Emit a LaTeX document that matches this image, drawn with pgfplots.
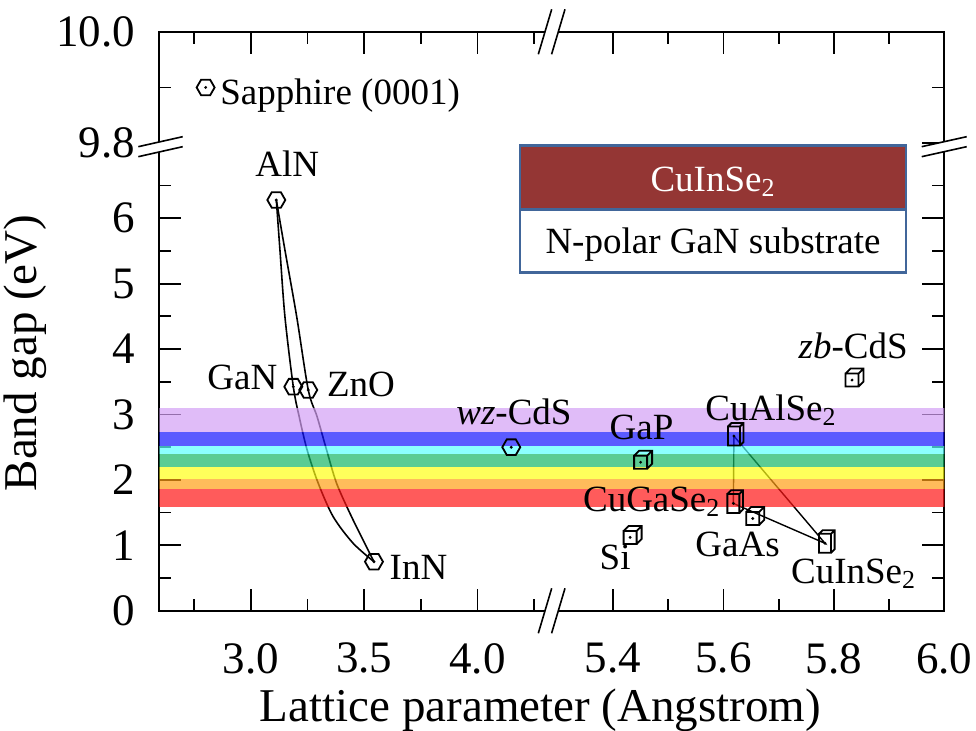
\documentclass[border=0pt]{standalone}
\usepackage{fontspec}
\setmainfont{Liberation Serif}
\usepackage{pgfplots}
\pgfplotsset{compat=1.18}

\definecolor{bviolet}{RGB}{211,159,245}
\definecolor{bblue}{RGB}{22,22,255}
\definecolor{bcyan}{RGB}{91,255,255}
\definecolor{bgreen}{RGB}{22,182,102}
\definecolor{byellow}{RGB}{255,255,22}
\definecolor{borange}{RGB}{255,159,22}
\definecolor{bred}{RGB}{255,22,22}
\definecolor{boxred}{RGB}{148,54,52}
\definecolor{boxblue}{RGB}{65,102,154}

\pgfdeclareplotmark{hexa}{%
  \pgfpathmoveto{\pgfqpoint{4.5pt}{0pt}}%
  \pgfpathlineto{\pgfqpoint{2.25pt}{3.9pt}}%
  \pgfpathlineto{\pgfqpoint{-2.25pt}{3.9pt}}%
  \pgfpathlineto{\pgfqpoint{-4.5pt}{0pt}}%
  \pgfpathlineto{\pgfqpoint{-2.25pt}{-3.9pt}}%
  \pgfpathlineto{\pgfqpoint{2.25pt}{-3.9pt}}%
  \pgfpathclose
  \pgfusepathqstroke
  \pgfpathcircle{\pgfpointorigin}{0.8pt}%
  \pgfusepathqfill}

\pgfdeclareplotmark{zbcube}{%
  \pgfpathrectangle{\pgfqpoint{-3.25pt}{-3.25pt}}{\pgfqpoint{6.5pt}{6.5pt}}%
  \pgfpathmoveto{\pgfqpoint{-3.25pt}{3.25pt}}%
  \pgfpathlineto{\pgfqpoint{-0.75pt}{5.75pt}}%
  \pgfpathlineto{\pgfqpoint{5.75pt}{5.75pt}}%
  \pgfpathlineto{\pgfqpoint{5.75pt}{-0.75pt}}%
  \pgfpathlineto{\pgfqpoint{3.25pt}{-3.25pt}}%
  \pgfpathmoveto{\pgfqpoint{3.25pt}{3.25pt}}%
  \pgfpathlineto{\pgfqpoint{5.75pt}{5.75pt}}%
  \pgfusepathqstroke
  \pgfpathcircle{\pgfpointorigin}{0.8pt}%
  \pgfusepathqfill}

\pgfdeclareplotmark{tallcube}{%
  \pgfpathrectangle{\pgfqpoint{-3pt}{-4.75pt}}{\pgfqpoint{6pt}{9.5pt}}%
  \pgfpathmoveto{\pgfqpoint{-3pt}{4.75pt}}%
  \pgfpathlineto{\pgfqpoint{-1.2pt}{6.55pt}}%
  \pgfpathlineto{\pgfqpoint{4.8pt}{6.55pt}}%
  \pgfpathlineto{\pgfqpoint{4.8pt}{-2.95pt}}%
  \pgfpathlineto{\pgfqpoint{3pt}{-4.75pt}}%
  \pgfpathmoveto{\pgfqpoint{3pt}{4.75pt}}%
  \pgfpathlineto{\pgfqpoint{4.8pt}{6.55pt}}%
  \pgfusepathqstroke
  \pgfpathcircle{\pgfpointorigin}{0.8pt}%
  \pgfusepathqfill}

\newcommand\lab{\fontsize{18.5}{22}\selectfont}
\newcommand\tlab{\fontsize{22.5}{26}\selectfont}
\newcommand\alab{\fontsize{23.5}{28}\selectfont}

\begin{document}
\begin{tikzpicture}
\path[use as bounding box] (-79.65pt,-60.15pt) rectangle (408.35pt,305.35pt);
\begin{axis}[
  name=ax, at={(0pt,0pt)}, anchor=south west,
  width=392.5pt, height=289.5pt, scale only axis,
  x coord trafo/.code={\pgfmathparse{(#1<5)?(#1):(4.598+(#1-5.4)*2.437)}},
  y coord trafo/.code={\pgfmathparse{(#1<8.5)?(#1):(7.147+(#1-9.8)*8.532)}},
  xmin=2.5955, xmax=6.0, ymin=0, ymax=10.0,
  xtick={3.0,3.5,4.0,5.4,5.6,5.8,6.0},
  xticklabels={3.0,3.5,4.0,5.4,5.6,5.8,6.0},
  minor xtick={2.75,3.25,3.75,4.25,5.5,5.7,5.9},
  ytick={0,1,2,3,4,5,6,9.8,10},
  yticklabels={0,1,2,3,4,5,6,9.8,10.0},
  minor ytick={0.5,1.5,2.5,3.5,4.5,5.5,6.5,9.9},
  tick align=inside,
  major tick length=11pt, minor tick length=6pt,
  tick style={black, line width=0.9pt},
  minor tick style={black, line width=0.9pt},
  axis line style={line width=1pt},
  /pgf/number format/assume math mode=true,
  xticklabel style={font=\tlab, inner sep=0pt, yshift=-16pt},
  yticklabel style={font=\tlab, inner sep=0pt, xshift=-12pt},
]
% alloy curves AlN - InN
\addplot[black, smooth, line width=0.8pt, no marks] coordinates {
  (3.112,6.28) (3.128,5.515) (3.150,4.495) (3.187,3.425) (3.213,2.966)
  (3.248,2.457) (3.297,1.948) (3.363,1.437) (3.451,1.031) (3.543,0.749)};
\addplot[black, smooth, line width=0.8pt, no marks] coordinates {
  (3.112,6.28) (3.150,5.515) (3.202,4.495) (3.253,3.375) (3.292,2.966)
  (3.334,2.457) (3.378,1.948) (3.444,1.437) (3.517,0.928) (3.543,0.749)};
% chalcopyrite triangle
\addplot[black, line width=0.7pt, no marks] coordinates {
  (5.619,2.67) (5.618,1.64) (5.784,1.03) (5.619,2.67)};
% wurtzite / hexagonal
\addplot[black, only marks, mark=hexa, mark options={line width=0.9pt}] coordinates {
  (2.80,9.90) (3.112,6.28) (3.187,3.425) (3.253,3.375) (3.543,0.749) (4.149,2.50)};
% cubic
\addplot[black, only marks, mark=zbcube, mark options={line width=0.9pt}] coordinates {
  (5.833,3.527) (5.450,2.27) (5.431,1.12) (5.653,1.41)};
% chalcopyrite
\addplot[black, only marks, mark=tallcube, mark options={line width=0.9pt}] coordinates {
  (5.619,2.67) (5.618,1.64) (5.784,1.03)};
% visible spectrum bands
\addplot[draw=none, fill=bred, fill opacity=0.7] coordinates {(2.5,1.59) (6.1,1.59) (6.1,1.86) (2.5,1.86)};
\addplot[draw=none, fill=borange, fill opacity=0.7] coordinates {(2.5,1.86) (6.1,1.86) (6.1,2.02) (2.5,2.02)};
\addplot[draw=none, fill=byellow, fill opacity=0.7] coordinates {(2.5,2.02) (6.1,2.02) (6.1,2.19) (2.5,2.19)};
\addplot[draw=none, fill=bgreen, fill opacity=0.7] coordinates {(2.5,2.19) (6.1,2.19) (6.1,2.40) (2.5,2.40)};
\addplot[draw=none, fill=bcyan, fill opacity=0.7] coordinates {(2.5,2.40) (6.1,2.40) (6.1,2.52) (2.5,2.52)};
\addplot[draw=none, fill=bblue, fill opacity=0.7] coordinates {(2.5,2.52) (6.1,2.52) (6.1,2.73) (2.5,2.73)};
\addplot[draw=none, fill=bviolet, fill opacity=0.7] coordinates {(2.5,2.73) (6.1,2.73) (6.1,3.10) (2.5,3.10)};
\end{axis}

% axis breaks
\fill[white] (189.5pt,-11.3pt) -- (196.2pt,11.2pt) -- (202.85pt,11.2pt) -- (196.15pt,-11.3pt) -- cycle;
\draw[line width=0.8pt] (189.5pt,-11.3pt) -- (196.2pt,11.2pt) (196.15pt,-11.3pt) -- (202.85pt,11.2pt);
\fill[white] (189.5pt,278.2pt) -- (196.2pt,300.7pt) -- (202.85pt,300.7pt) -- (196.15pt,278.2pt) -- cycle;
\draw[line width=0.8pt] (189.5pt,278.2pt) -- (196.2pt,300.7pt) (196.15pt,278.2pt) -- (202.85pt,300.7pt);
\fill[white] (-10.5pt,227pt) -- (11.7pt,232pt) -- (11.7pt,237pt) -- (-10.5pt,232pt) -- cycle;
\draw[line width=0.8pt] (-10.5pt,227pt) -- (11.7pt,232pt) (-10.5pt,232pt) -- (11.7pt,237pt);
\fill[white] (381.2pt,227pt) -- (403.7pt,232pt) -- (403.7pt,237pt) -- (381.2pt,232pt) -- cycle;
\draw[line width=0.8pt] (381.2pt,227pt) -- (403.7pt,232pt) (381.2pt,232pt) -- (403.7pt,237pt);

% axis labels
\node[anchor=base, inner sep=0pt, font=\alab] at (190.6pt,-55.45pt) {Lattice parameter (Angstrom)};
\node[anchor=base, inner sep=0pt, rotate=90, font=\alab] at (-61.15pt,128.85pt) {Band gap (eV)};

% inset box
\fill[white] (180.35pt,169.2pt) rectangle (373.35pt,200.7pt);
\fill[boxred] (180.35pt,200.7pt) rectangle (373.35pt,232.5pt);
\draw[boxblue, line width=1.3pt] (180.35pt,169.2pt) rectangle (373.35pt,232.5pt);
\draw[boxblue, line width=1.3pt] (180.35pt,200.7pt) -- (373.35pt,200.7pt);
\node[white, anchor=base, inner sep=0pt] at (276.85pt,209.5pt) {\lab CuInSe\textsubscript{2}};
\node[anchor=base, inner sep=0pt] at (276.85pt,178.7pt) {\lab N-polar GaN substrate};

% point labels
\begin{scope}[every node/.style={anchor=base west, inner sep=0pt, font=\lab}]
\node at (30.35pt,252.85pt) {Sapphire (0001)};
\node at (47.85pt,217.0pt) {AlN};
\node at (23.85pt,110.35pt) {GaN};
\node at (83.7pt,107.1pt) {ZnO};
\node at (115pt,15.35pt) {InN};
\node at (148.35pt,93.2pt) {\textit{wz}-CdS};
\node at (225pt,85.35pt) {GaP};
\node at (272.85pt,95pt) {CuAlSe\textsubscript{2}};
\node at (319.5pt,126.2pt) {\textit{zb}-CdS};
\node at (211.7pt,49.5pt) {CuGaSe\textsubscript{2}};
\node at (220pt,20.7pt) {Si};
\node at (267.85pt,27pt) {GaAs};
\node at (315.7pt,13.7pt) {CuInSe\textsubscript{2}};
\end{scope}
\end{tikzpicture}
\end{document}
